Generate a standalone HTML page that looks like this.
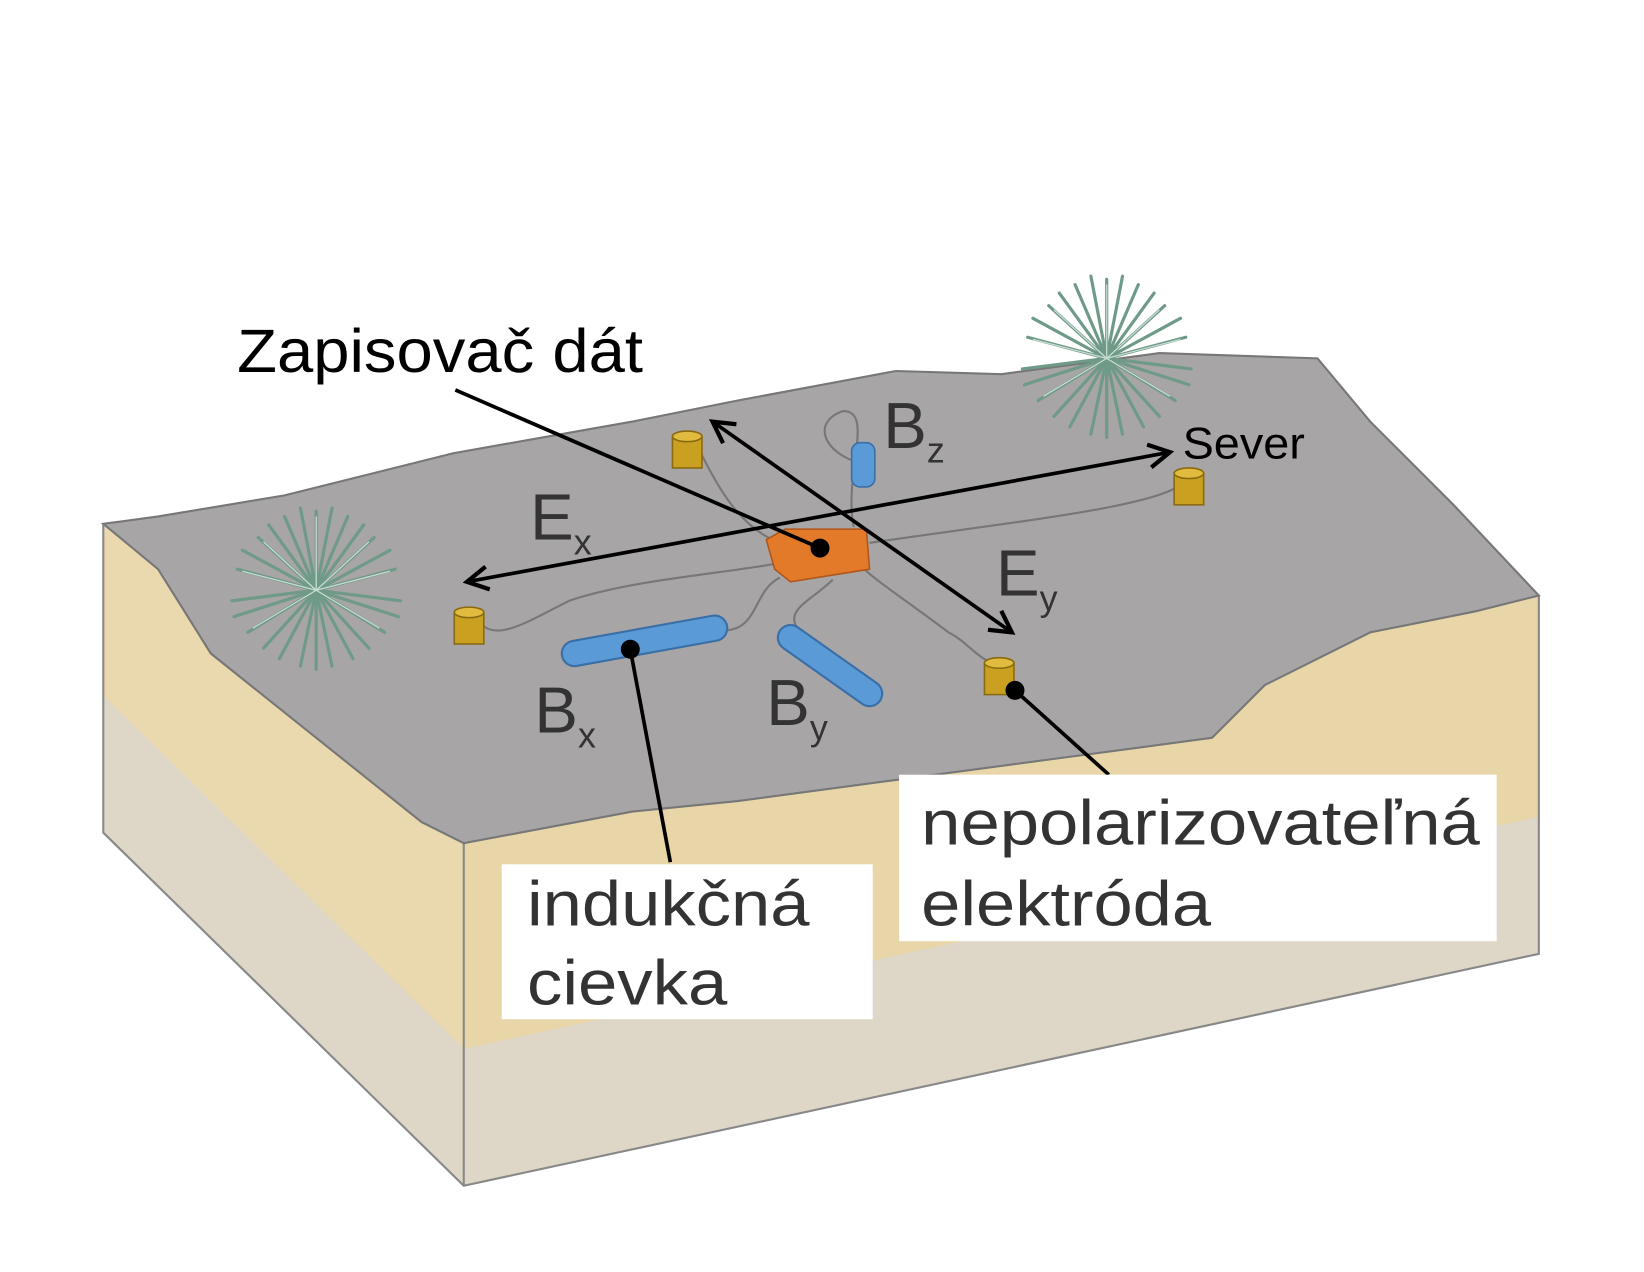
<!DOCTYPE html>
<html><head><meta charset="utf-8"><style>
html,body{margin:0;padding:0;background:#fff}
svg{display:block}
text{font-family:"Liberation Sans",sans-serif}
</style></head><body>
<svg width="1644" height="1272" viewBox="0 0 1644 1272" xmlns="http://www.w3.org/2000/svg">
<defs>
<marker id="ah" markerWidth="26" markerHeight="26" refX="22" refY="13" orient="auto-start-reverse" markerUnits="userSpaceOnUse">
<path d="M2,2 L22,13 L2,24" fill="none" stroke="#000" stroke-width="4"/>
</marker>
<g id="plant">
<g stroke="#6f9a88" stroke-width="3" stroke-linecap="round">
<line x1="0" y1="0" x2="0" y2="-75"/><line x1="0" y1="0" x2="30" y2="-70"/><line x1="0" y1="0" x2="-30" y2="-70"/>
<line x1="0" y1="0" x2="55" y2="-50"/><line x1="0" y1="0" x2="-55" y2="-50"/><line x1="0" y1="0" x2="75" y2="-20"/>
<line x1="0" y1="0" x2="-75" y2="-20"/><line x1="0" y1="0" x2="80" y2="10"/><line x1="0" y1="0" x2="-80" y2="10"/>
<line x1="0" y1="0" x2="65" y2="40"/><line x1="0" y1="0" x2="-65" y2="40"/><line x1="0" y1="0" x2="35" y2="65"/>
<line x1="0" y1="0" x2="-35" y2="65"/><line x1="0" y1="0" x2="0" y2="75"/><line x1="0" y1="0" x2="15" y2="-78"/>
<line x1="0" y1="0" x2="-15" y2="-78"/><line x1="0" y1="0" x2="45" y2="-62"/><line x1="0" y1="0" x2="-45" y2="-62"/>
<line x1="0" y1="0" x2="70" y2="-38"/><line x1="0" y1="0" x2="-70" y2="-38"/>
<line x1="0" y1="0" x2="50" y2="55"/><line x1="0" y1="0" x2="-50" y2="55"/><line x1="0" y1="0" x2="78" y2="25"/><line x1="0" y1="0" x2="-78" y2="25"/>
<line x1="0" y1="0" x2="15" y2="72"/><line x1="0" y1="0" x2="-15" y2="72"/>
</g>
<g stroke="#c8dcd2" stroke-width="1.2">
<line x1="0" y1="0" x2="0" y2="-70"/><line x1="0" y1="0" x2="50" y2="-46"/><line x1="0" y1="0" x2="-50" y2="-46"/>
<line x1="0" y1="0" x2="70" y2="-18"/><line x1="0" y1="0" x2="-70" y2="-18"/><line x1="0" y1="0" x2="60" y2="36"/><line x1="0" y1="0" x2="-60" y2="36"/>
</g>
</g>
<g id="elec">
<rect x="-14" y="-14" width="28" height="30" fill="#c9a020" stroke="#8a6a10" stroke-width="1.5"/>
<ellipse cx="0" cy="-14" rx="14" ry="5" fill="#e0bb40" stroke="#8a6a10" stroke-width="1.5"/>
</g>
</defs>
<g transform="scale(1.054)">
<polygon points="98,497 150,540 200,620 300,700 400,780 440,800 440,1125 98,790" fill="#ead9ae"/>
<polygon points="440,800 600,770 700,760 850,740 1000,720 1150,700 1200,650 1300,600 1400,580 1460,565 1460,905 440,1125" fill="#e8d6a8"/>
<polygon points="98,660 440,995 1460,775 1460,905 440,1125 98,790" fill="#ded6c6"/>
<g fill="none" stroke="#888" stroke-width="2">
<polyline points="98,497 98,790 440,1125 1460,905 1460,565"/>
<line x1="440" y1="800" x2="440" y2="1125"/>
</g>
<polygon points="98,497 150,490 270,470 430,430 600,400 700,380 850,352 950,355 1100,335 1250,340 1300,400 1380,480 1460,565 1400,580 1300,600 1200,650 1150,700 1000,720 850,740 700,760 600,770 440,800 400,780 300,700 200,620 150,540" fill="#a7a5a6" stroke="#777" stroke-width="2"/>
<g fill="none" stroke="#777" stroke-width="2">
<path d="M455,590 C470,610 500,590 540,570 C600,550 680,545 735,535"/>
<path d="M660,420 C680,460 700,500 740,515"/>
<path d="M1128,455 C1100,480 1000,490 825,515"/>
<path d="M818,440 C780,430 770,400 800,390 C830,390 800,450 810,500"/>
<path d="M690,598 C720,595 715,560 740,548"/>
<path d="M760,600 C740,580 770,570 790,550"/>
<path d="M950,630 C930,630 920,610 900,600 C860,570 830,550 820,540"/>
</g>
<use href="#plant" x="300" y="560"/>
<use href="#plant" x="1050" y="340"/>
<polygon points="727,512 745,502 822,502 825,540 750,552 735,540" fill="#e27a2a" stroke="#b0561a" stroke-width="1.5"/>
<use href="#elec" x="652" y="428"/>
<use href="#elec" x="1128" y="463"/>
<use href="#elec" x="445" y="595"/>
<use href="#elec" x="948" y="643"/>
<rect x="808" y="420" width="22" height="42" rx="8" fill="#5a9ad6" stroke="#3a6ea6" stroke-width="1.5"/>
<line x1="545" y1="620" x2="678" y2="596" stroke="#3a6ea6" stroke-width="26" stroke-linecap="round"/>
<line x1="545" y1="620" x2="678" y2="596" stroke="#5a9ad6" stroke-width="22" stroke-linecap="round"/>
<line x1="750" y1="605" x2="825" y2="658" stroke="#3a6ea6" stroke-width="26" stroke-linecap="round"/>
<line x1="750" y1="605" x2="825" y2="658" stroke="#5a9ad6" stroke-width="22" stroke-linecap="round"/>
<g stroke="#000" stroke-width="3.5" fill="none">
<line x1="1110" y1="429" x2="443" y2="552" marker-start="url(#ah)" marker-end="url(#ah)"/>
<line x1="676" y1="400" x2="960" y2="600" marker-start="url(#ah)" marker-end="url(#ah)"/>
<line x1="432" y1="370" x2="778" y2="520"/>
<line x1="598" y1="616" x2="636" y2="818"/>
<line x1="963" y1="655" x2="1052" y2="735"/>
</g>
<g fill="#000"><circle cx="778" cy="520" r="9"/><circle cx="598" cy="616" r="9"/><circle cx="963" cy="655" r="9"/></g>
<text x="225" y="353" font-size="58" fill="#000" textLength="385" lengthAdjust="spacingAndGlyphs">Zapisovač dát</text>
<text x="1122" y="435" font-size="42" fill="#000" textLength="116" lengthAdjust="spacingAndGlyphs">Sever</text>
<g fill="#333" font-size="62">
<text x="503" y="512">E<tspan font-size="34" dy="14">x</tspan></text>
<text x="838" y="425">B<tspan font-size="34" dy="14">z</tspan></text>
<text x="945" y="565">E<tspan font-size="34" dy="14">y</tspan></text>
<text x="507" y="695">B<tspan font-size="34" dy="14">x</tspan></text>
<text x="727" y="688">B<tspan font-size="34" dy="14">y</tspan></text>
</g>
<rect x="476" y="820" width="352" height="147" fill="#fff"/>
<rect x="853" y="735" width="567" height="158" fill="#fff"/>
<g fill="#333" font-size="60">
<text x="500" y="878" textLength="268" lengthAdjust="spacingAndGlyphs">indukčná</text>
<text x="500" y="953" textLength="190" lengthAdjust="spacingAndGlyphs">cievka</text>
<text x="874" y="801" textLength="530" lengthAdjust="spacingAndGlyphs">nepolarizovateľná</text>
<text x="874" y="878" textLength="275" lengthAdjust="spacingAndGlyphs">elektróda</text>
</g>
</g>
</svg>
</body></html>
